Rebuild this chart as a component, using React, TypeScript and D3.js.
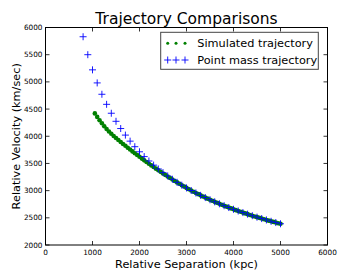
import * as d3 from "d3";

// Point mass trajectory (blue +), separation in kpc
const pointMassR = [
  800, 900, 1000, 1100, 1200, 1300, 1400, 1500, 1600, 1700, 1800, 1900, 2000, 2100, 2200,
  2300, 2400, 2500, 2600, 2700, 2800, 2900, 3000, 3100, 3200, 3300, 3400, 3500, 3600, 3700,
  3800, 3900, 4000, 4100, 4200, 4300, 4400, 4500, 4600, 4700, 4800, 4900, 5000
];
const pointMassV = [
  5830, 5500, 5221, 4981, 4772, 4587, 4423, 4275, 4142, 4021, 3910, 3808, 3714, 3626, 3545,
  3469, 3398, 3331, 3269, 3209, 3153, 3100, 3050, 3002, 2957, 2913, 2872, 2832, 2794, 2758,
  2723, 2689, 2657, 2626, 2596, 2567, 2539, 2512, 2486, 2461, 2436, 2413, 2390
];

// Simulated trajectory (green dots)
const simR = [
  1050, 1100, 1150, 1200, 1250, 1300, 1350, 1400, 1450, 1500, 1550, 1600, 1650, 1700, 1750,
  1800, 1850, 1900, 1950, 2000, 2050, 2100, 2150, 2200, 2250, 2300, 2350, 2400, 2450, 2500,
  2550, 2600, 2650, 2700, 2750, 2800, 2850, 2900, 2950, 3000, 3050, 3100, 3150, 3200, 3250,
  3300, 3350, 3400, 3450, 3500, 3550, 3600, 3650, 3700, 3750, 3800, 3850, 3900, 3950, 4000,
  4050, 4100, 4150, 4200, 4250, 4300, 4350, 4400, 4450, 4500, 4550, 4600, 4650, 4700, 4750,
  4800, 4850, 4900, 4950, 5000
];
const simV = [
  4420, 4356, 4295, 4238, 4184, 4134, 4088, 4045, 4005, 3967, 3930, 3894, 3858, 3824, 3789,
  3755, 3721, 3688, 3655, 3622, 3589, 3557, 3526, 3495, 3464, 3434, 3404, 3374, 3345, 3316,
  3288, 3260, 3232, 3204, 3178, 3151, 3127, 3100, 3075, 3050, 3026, 3002, 2979, 2957, 2935,
  2913, 2892, 2872, 2852, 2832, 2813, 2794, 2776, 2758, 2740, 2723, 2706, 2689, 2673, 2657,
  2641, 2626, 2611, 2596, 2581, 2567, 2553, 2539, 2525, 2512, 2499, 2486, 2473, 2461, 2448,
  2436, 2425, 2413, 2401, 2390
];

const xTicks = [0, 1000, 2000, 3000, 4000, 5000, 6000];
const yTicks = [2000, 2500, 3000, 3500, 4000, 4500, 5000, 5500, 6000];
const legendLabels = ["Simulated trajectory", "Point mass trajectory"];

const font = "DejaVu Sans, sans-serif";

function Plus({ x, y, s, color }: { x: number; y: number; s: number; color: string }) {
  return (
    <path
      d={`M${x - s},${y}H${x + s}M${x},${y - s}V${y + s}`}
      stroke={color}
      strokeWidth={0.9}
      fill="none"
    />
  );
}

export default function App() {
  const width = 364;
  const height = 273;
  const left = 45.5;
  const right = 327.5;
  const top = 27.5;
  const bottom = 245;

  const x = d3.scaleLinear().domain([0, 6000]).range([left, right]);
  const y = d3.scaleLinear().domain([2000, 6000]).range([bottom, top]);

  const green = "#008000";
  const blue = "#0000ff";

  return (
    <svg
      width={width}
      height={height}
      viewBox={`0 0 ${width} ${height}`}
      style={{ position: "absolute", left: 0, top: 0, background: "#fff" }}
      fontFamily={font}
    >
      <rect width={width} height={height} fill="#fff" />
      <text x={(left + right) / 2} y={24} fontSize={15.5} textAnchor="middle" fill="#000">
        Trajectory Comparisons
      </text>

      {simR.map((r, i) => (
        <circle key={`s${r}`} cx={x(r)} cy={y(simV[i])} r={2.3} fill={green} />
      ))}
      {pointMassR.map((r, i) => (
        <Plus key={`p${r}`} x={x(r)} y={y(pointMassV[i])} s={3.5} color={blue} />
      ))}

      {/* spines */}
      <rect
        x={left}
        y={top}
        width={right - left}
        height={bottom - top}
        fill="none"
        stroke="#000"
        strokeWidth={1}
      />

      {xTicks.map((t) => (
        <g key={`x${t}`}>
          <line x1={x(t)} x2={x(t)} y1={bottom} y2={bottom - 4} stroke="#000" strokeWidth={0.8} />
          <line x1={x(t)} x2={x(t)} y1={top} y2={top + 4} stroke="#000" strokeWidth={0.8} />
          <text x={x(t)} y={bottom + 10} fontSize={7.3} textAnchor="middle" fill="#000">
            {t}
          </text>
        </g>
      ))}
      {yTicks.map((t) => (
        <g key={`y${t}`}>
          <line x1={left} x2={left + 4} y1={y(t)} y2={y(t)} stroke="#000" strokeWidth={0.8} />
          <line x1={right} x2={right - 4} y1={y(t)} y2={y(t)} stroke="#000" strokeWidth={0.8} />
          <text x={left - 3} y={y(t)} dy="0.35em" fontSize={7.3} textAnchor="end" fill="#000">
            {t}
          </text>
        </g>
      ))}

      <text x={(left + right) / 2} y={268} fontSize={11.3} textAnchor="middle" fill="#000">
        Relative Separation (kpc)
      </text>
      <text
        transform={`translate(20,${(top + bottom) / 2}) rotate(-90)`}
        fontSize={11.3}
        textAnchor="middle"
        fill="#000"
      >
        Relative Velocity (km/sec)
      </text>

      {/* legend */}
      <g>
        <rect x={160.7} y={32.3} width={157.6} height={37} fill="#fff" stroke="#444" strokeWidth={1} />
        {[167.7, 176, 185].map((lx) => (
          <circle key={`lg${lx}`} cx={lx} cy={43.3} r={1.5} fill={green} />
        ))}
        {[167.7, 176, 185].map((lx) => (
          <Plus key={`lb${lx}`} x={lx} y={60} s={3.5} color={blue} />
        ))}
        <text x={197.3} y={47} fontSize={11.3} fill="#000">
          {legendLabels[0]}
        </text>
        <text x={197.3} y={64} fontSize={11.3} fill="#000">
          {legendLabels[1]}
        </text>
      </g>
    </svg>
  );
}
